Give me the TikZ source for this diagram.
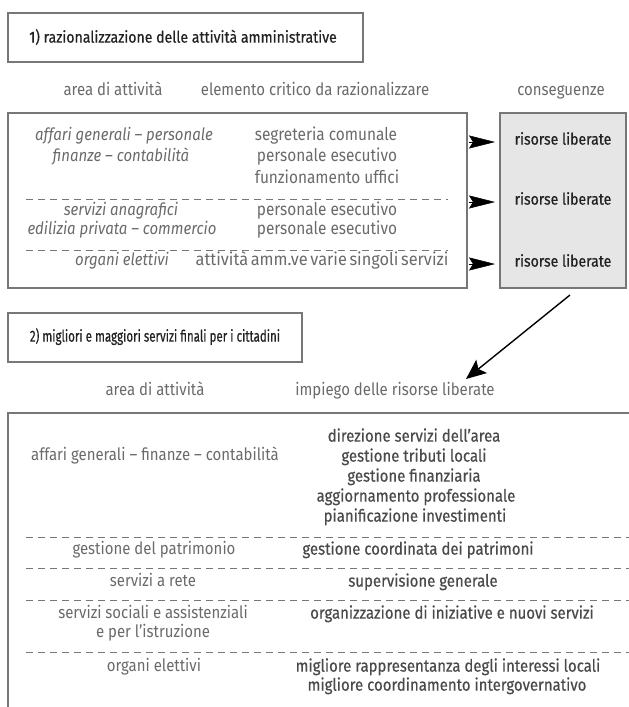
\documentclass[tikz,border=0pt]{standalone}
\usepackage{fontspec}
\setmainfont{Fira Sans}[FakeStretch=0.88]
\newfontfamily\semib{Fira Sans}[FakeStretch=0.88, FakeBold=0.5]
\usetikzlibrary{arrows.meta}
\definecolor{txt}{HTML}{6A6A6A}
\definecolor{dtxt}{HTML}{222222}
\definecolor{btxt}{HTML}{4A4A4A}
\definecolor{frame}{HTML}{777777}
\definecolor{grayfill}{HTML}{E6E6E6}
\tikzset{
  body/.style={text=txt, font=\fontsize{17}{19}\selectfont, inner sep=0pt, anchor=mid},
  itbody/.style={body, font=\fontsize{17}{19}\selectfont\itshape},
  midcol/.style={body, font=\fontsize{17.5}{19}\selectfont},
  strong/.style={text=dtxt, font=\fontsize{16}{17}\semib, inner sep=0pt, anchor=mid},
  cons/.style={text=dtxt, font=\fontsize{16}{18}\semib, inner sep=0pt, anchor=mid},
  rcol/.style={text=btxt, font=\fontsize{17}{19}\semib, inner sep=0pt, anchor=mid},
  framebox/.style={draw=frame, line width=1.5pt},
  sep/.style={draw=frame, line width=0.8pt, dash pattern=on 7pt off 5pt},
  smallarrow/.style={-{Stealth[length=26pt,width=13pt,inset=4pt]}, line width=0.5pt, black},
  bigarrow/.style={-{Stealth[length=20pt,width=17pt,inset=4pt]}, line width=1.4pt, black}
}
\begin{document}
\begin{tikzpicture}[x=1pt,y=-1pt]
\useasboundingbox (0,0) rectangle (629,707);
% title 1
\draw[framebox] (8,13) rectangle (363,62);
\node[strong] (t1) at (183,40) {1) razionalizzazione delle attività amministrative};
% headers
\node[body] (h1) at (113,93) {area di attività};
\node[body] (h2) at (315,93) {elemento critico da razionalizzare};
\node[body] (h3) at (561,93) {conseguenze};
% top box
\draw[framebox] (8,113) rectangle (467,288);
\draw[framebox, fill=grayfill] (500,113) rectangle (626,288);
\node[itbody] (l1) at (124,138) {affari generali – personale};
\node[itbody] (l2) at (121,159) {finanze – contabilità};
\node[midcol] (r1) at (326,138) {segreteria comunale};
\node[midcol] (r2) at (327,159) {personale esecutivo};
\node[midcol] (r3) at (327,181) {funzionamento uffici};
\draw[sep] (26,199) -- (448,199);
\node[itbody] (l3) at (121,213) {servizi anagrafici};
\node[itbody] (l4) at (122,232) {edilizia privata – commercio};
\node[midcol] (r4) at (327,213) {personale esecutivo};
\node[midcol] (r5) at (327,232) {personale esecutivo};
\draw[sep] (26,250) -- (448,250);
\node[itbody] (l5) at (122,263) {organi elettivi};
\node[midcol] (r6) at (322,263) {\scalebox{1.06}[1]{\spaceskip=2.5pt attività amm.ve varie singoli servizi}};
% consequences
\node[cons] (c1) at (563,142) {risorse liberate};
\node[cons] (c2) at (563,202) {risorse liberate};
\node[cons] (c3) at (563,264) {risorse liberate};
\coordinate (a1) at (469,142); \coordinate (b1) at (495,142);
\coordinate (a2) at (469,202); \coordinate (b2) at (495,202);
\coordinate (a3) at (469,264); \coordinate (b3) at (495,264);
\draw[smallarrow] (a1) -- (b1);
\draw[smallarrow] (a2) -- (b2);
\draw[smallarrow] (a3) -- (b3);
% big arrow
\coordinate (ba) at (570,295);
\coordinate (bb) at (466,379);
\draw[bigarrow] (ba) -- (bb);
% title 2
\draw[framebox] (8,313) rectangle (302,362);
\node[strong] (t2) at (155,339) {\scalebox{0.82}[1]{2) migliori e maggiori servizi finali per i cittadini}};
\node[body] (h4) at (155,393) {area di attività};
\node[body] (h5) at (395,393) {impiego delle risorse liberate};
% bottom box
\draw[framebox] (629,413) -- (8,413) -- (8,708);
\node[body] (m1) at (155,458) {affari generali – finanze – contabilità};
\node[rcol] (n1) at (414,439) {direzione servizi dell’area};
\node[rcol] (n2) at (414,459) {gestione tributi locali};
\node[rcol] (n3) at (414,479) {gestione finanziaria};
\node[rcol] (n4) at (416,499) {aggiornamento professionale};
\node[rcol] (n5) at (415,519) {pianificazione investimenti};
\draw[sep] (26,537) -- (629,537);
\node[body] (m2) at (154,552) {gestione del patrimonio};
\node[rcol] (n6) at (418,552) {gestione coordinata dei patrimoni};
\draw[sep] (26,568) -- (629,568);
\node[body] (m3) at (153,584) {servizi a rete};
\node[rcol] (n7) at (423,584) {supervisione generale};
\draw[sep] (26,600) -- (629,600);
\node[body] (m4) at (153,616) {servizi sociali e assistenziali};
\node[body] (m5) at (153,635) {e per l’istruzione};
\node[rcol] (n8) at (452,616) {organizzazione di iniziative e nuovi servizi};
\draw[sep] (26,652) -- (629,652);
\node[body] (m6) at (154,669) {organi elettivi};
\node[rcol] (n9) at (448,669) {migliore rappresentanza degli interessi locali};
\node[rcol] (n10) at (447,688) {migliore coordinamento intergovernativo};
\end{tikzpicture}
\end{document}
